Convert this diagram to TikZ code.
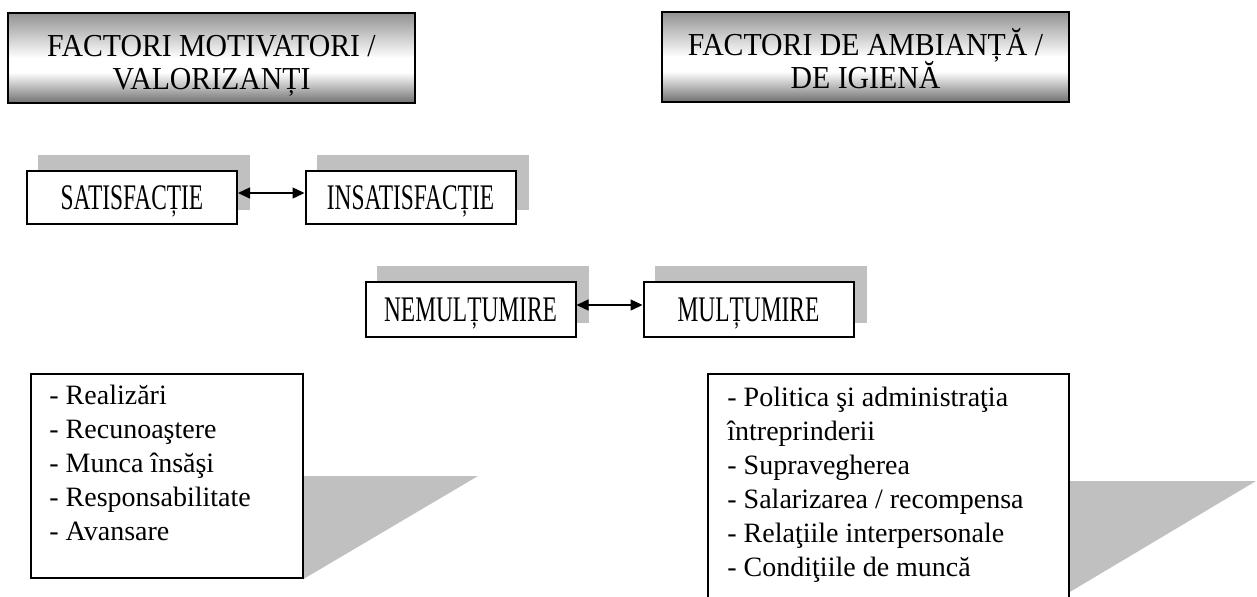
\documentclass[tikz,border=0pt]{standalone}
\usepackage{fontspec}
\setmainfont{Liberation Serif}
\usepackage{graphicx}
\usetikzlibrary{arrows.meta,backgrounds}

\definecolor{shadowgray}{RGB}{192,192,192}
\definecolor{hdrtop}{RGB}{146,146,146}
\definecolor{hdrbottom}{RGB}{112,112,112}
% grey at top and bottom, white band a little below the middle
\pgfdeclareverticalshading{hdrshade}{100bp}{color(0bp)=(hdrbottom); color(25bp)=(hdrbottom); color(42bp)=(white); color(50bp)=(white); color(75bp)=(hdrtop); color(100bp)=(hdrtop)}

% two centred lines at a fixed pitch; baseline is the last line
\newcommand\hdrlines[2]{\vbox{\lineskiplimit=-\maxdimen\halign{\hfil##\hfil\cr#1\cr#2\cr}}}
% left-aligned lines at a fixed pitch; baseline is the first line
\newcommand\itemlines[1]{\vtop{\lineskiplimit=-\maxdimen\halign{##\hfil\cr#1\crcr}}}

\begin{document}
\begin{tikzpicture}[x=0.5pt,y=-0.5pt,
  hdr/.style={draw=black,line width=1pt,shading=hdrshade,
    minimum width=203.5pt,minimum height=45pt,inner sep=0pt},
  hdrtxt/.style={font=\fontsize{16pt}{16.5pt}\selectfont,inner sep=0pt,anchor=base},
  smallbox/.style={draw=black,line width=1pt,fill=white,inner sep=0pt,
    minimum width=105pt,minimum height=26.5pt,text height=12pt,text depth=0pt,
    font=\fontsize{18pt}{20pt}\selectfont},
  listbox/.style={draw=black,line width=0.8pt,fill=white,inner sep=0pt},
  listtxt/.style={font=\fontsize{14pt}{17pt}\selectfont,inner sep=0pt,anchor=base west},
  link/.style={line width=0.7pt,{Triangle[length=6pt,width=5.5pt]}-{Triangle[length=6pt,width=5.5pt]}},
  shade box/.style={fill=shadowgray}
]
\useasboundingbox (0,0) rectangle (1257,596);
\clip (0,0) rectangle (1257,596);

% headings
\node[hdr] (hdrL) at (211.5,58) {};
\node[hdrtxt] (hdrLtxt) at (211.5,89) {\scalebox{0.93}[1]{\hdrlines{FACTORI MOTIVATORI /}{VALORIZANȚI}}};
\node[hdr] (hdrR) at (865.5,57) {};
\node[hdrtxt] (hdrRtxt) at (865.5,88) {\scalebox{0.93}[1]{\hdrlines{FACTORI DE AMBIANȚĂ /}{DE IGIENĂ}}};

% state boxes
\node[smallbox] (sat) at (132,197.5) {\scalebox{0.65}[1]{SATISFACȚIE}};
\node[smallbox] (insat) at (410.5,197.5) {\scalebox{0.65}[1]{INSATISFACȚIE}};
\node[smallbox,minimum height=27.5pt] (nem) at (470.5,309.5) {\scalebox{0.65}[1]{NEMULȚUMIRE}};
\node[smallbox,minimum height=27.5pt] (mul) at (748.5,309.5) {\scalebox{0.65}[1]{MULȚUMIRE}};

% factor lists
\node[listbox,minimum width=136pt,minimum height=102pt] (listL) at (167,476) {};
\node[listtxt] (listLtxt) at (49,404) {\itemlines{- Realizări\cr
- Recunoaştere\cr
- Munca însăşi\cr
- Responsabilitate\cr
- Avansare}};
\node[listbox,minimum width=180.5pt,minimum height=120pt] (listR) at (888.5,494) {};
\node[listtxt] (listRtxt) at (727,406) {\itemlines{- Politica şi administraţia\cr
întreprinderii\cr
- Supravegherea\cr
- Salarizarea / recompensa\cr
- Relaţiile interpersonale\cr
- Condiţiile de muncă}};

% shadows behind the boxes
\begin{scope}[on background layer]
  \foreach \b in {sat,insat,nem,mul}
    \fill[shade box] ([shift={(12,-15)}]\b.south west) rectangle ([shift={(12,-15)}]\b.north east);
  \fill[shade box] (listL.east |- 0,476) -- (478,476) -- (listL.south east) -- cycle;
  \fill[shade box] (listR.east |- 0,481) -- (1256,481) -- (listR.east |- 0,592) -- cycle;
\end{scope}

% two-way links
\draw[link] ([yshift=2.25pt]sat.east) -- ([yshift=2.25pt]insat.west);
\draw[link] ([yshift=2.25pt]nem.east) -- ([yshift=2.25pt]mul.west);
\end{tikzpicture}
\end{document}
